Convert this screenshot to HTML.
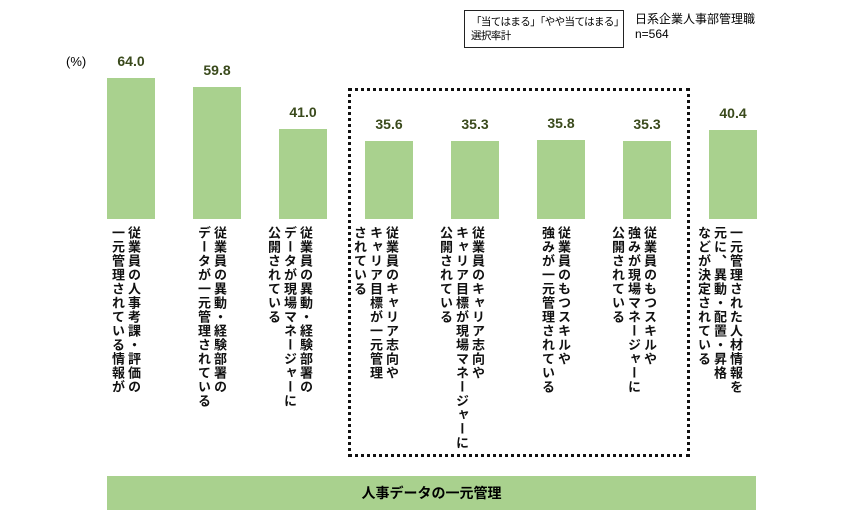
<!DOCTYPE html>
<html><head><meta charset="utf-8"><style>
body{margin:0;width:865px;height:520px;background:#fff;position:relative;overflow:hidden;font-family:"Liberation Sans","Noto Sans CJK JP",sans-serif;}
.abs{position:absolute;}
.bar{position:absolute;background:#a9d18e;width:48px;}
.val{position:absolute;width:60px;text-align:center;font-weight:bold;font-size:14px;color:#3a4a1c;}
.lbl{position:absolute;writing-mode:vertical-rl;font-size:13px;font-weight:bold;line-height:16px;color:#111;top:226px;letter-spacing:1px;}
</style></head><body>
<div class="abs" style="left:464px;top:10px;width:160px;height:38px;border:1px solid #222;font-size:10.5px;line-height:14px;padding:4px 0 0 6px;box-sizing:border-box;white-space:nowrap;letter-spacing:-0.6px;overflow:hidden;">「当てはまる」「やや当てはまる」<br>選択率計</div>
<div class="abs" style="left:635px;top:12px;font-size:12px;line-height:15px;">日系企業人事部管理職<br>n=564</div>
<div class="abs" style="left:66px;top:54px;font-size:13px;">(%)</div>
<div class="abs" style="left:348px;top:88px;width:342px;height:369px;border:3px dotted #111;box-sizing:border-box;"></div>
<div class="abs" style="left:107px;top:476px;width:649px;height:34px;background:#a9d18e;text-align:center;line-height:34px;font-weight:bold;font-size:14px;">人事データの一元管理</div>
<div id="chart"></div>
<script>
const categories=["従業員の人事考課・評価の\n一元管理されている情報が","従業員の異動・経験部署の\nデータが一元管理されている","従業員の異動・経験部署の\nデータが現場マネージャーに\n公開されている","従業員のキャリア志向や\nキャリア目標が一元管理\nされている","従業員のキャリア志向や\nキャリア目標が現場マネージャーに\n公開されている","従業員のもつスキルや\n強みが一元管理されている","従業員のもつスキルや\n強みが現場マネージャーに\n公開されている","一元管理された人材情報を\n元に、異動・配置・昇格\nなどが決定されている"];
const values=[64.0,59.8,41.0,35.6,35.3,35.8,35.3,40.4];
const labels=["64.0","59.8","41.0","35.6","35.3","35.8","35.3","40.4"];
const base=219, scale=2.2, x0=131, step=86;
const c=document.getElementById('chart');
values.forEach((v,i)=>{
 const cx=x0+i*step, h=v*scale;
 const b=document.createElement('div');b.className='bar';
 
 
 b.style.left=(cx-24)+'px';b.style.top=(base-h)+'px';b.style.height=h+'px';c.appendChild(b);
 const t=document.createElement('div');t.className='val';
 
 
 t.textContent=labels[i];t.style.left=(cx-30)+'px';t.style.top=(base-h-25)+'px';c.appendChild(t);
 const l=document.createElement('div');l.className='lbl';
 
 
 l.innerHTML=categories[i].split('\n').join('<br>');
 c.appendChild(l);
 l.style.left=(cx+10-l.offsetWidth)+'px';
});
</script>
</body></html>
